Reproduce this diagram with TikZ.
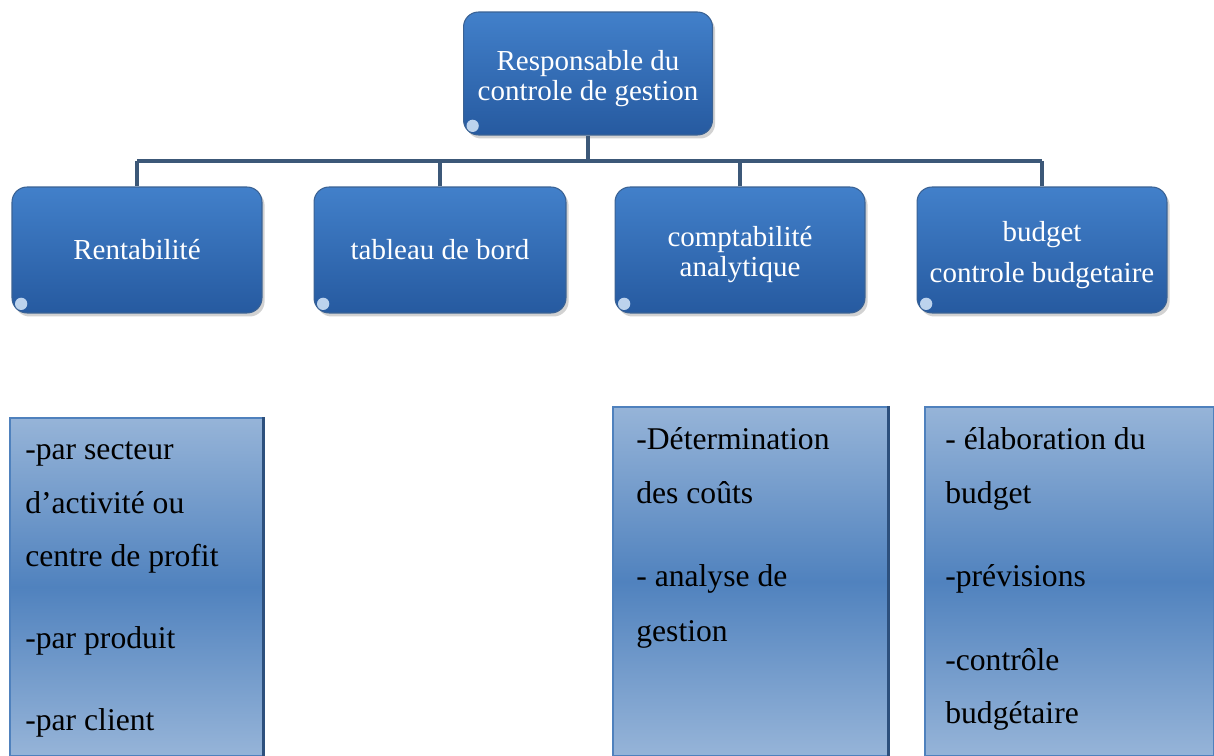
\documentclass[tikz,border=0pt]{standalone}
\usepackage{fontspec}
\setmainfont{Liberation Serif}
\usetikzlibrary{shadows}
\definecolor{boxtop}{RGB}{66,128,202}
\definecolor{boxbot}{RGB}{38,90,160}
\definecolor{boxedge}{RGB}{58,98,148}
\definecolor{conncol}{RGB}{60,88,120}
\definecolor{lightb}{RGB}{150,180,216}
\definecolor{midb}{RGB}{80,130,190}
\definecolor{paneledge}{RGB}{79,129,189}
\definecolor{paneldark}{RGB}{45,80,125}
\definecolor{hlcol}{RGB}{215,232,250}
\newcommand{\tpad}{\rule{0pt}{17pt}}
\tikzset{
 topbox/.style={rectangle, rounded corners=0.3cm, top color=boxtop, bottom color=boxbot,
   draw=boxedge, line width=0.6pt, text=white, align=center, inner sep=0pt,
   minimum width=5cm, minimum height=2.5cm, font=\fontsize{16.5}{17}\selectfont,
   drop shadow={opacity=0.35, shadow xshift=1.5pt, shadow yshift=-2pt}},
 panel/.style={rectangle, top color=lightb, bottom color=lightb, middle color=midb,
   draw=paneledge, line width=0.8pt, inner sep=0pt, minimum height=6.98cm},
 conn/.style={draw=conncol, line width=2.2pt},
 ptext/.style={anchor=base west, inner sep=0pt, font=\fontsize{18}{20}\selectfont, text=black},
 hl/.style={fill=hlcol, opacity=0.85},
 darkedge/.style={draw=paneldark, line width=1.5pt},
}
\begin{document}
\begin{tikzpicture}[x=0.02cm,y=-0.02cm]
\fill[white] (0,0) rectangle (1214,756);
\useasboundingbox (0,0) rectangle (1214,756);

% top boxes
\node[topbox, minimum width=4.98cm, minimum height=2.46cm] (top) at (588,73.5) {\tpad Responsable du\\controle de gestion};
\node[topbox, minimum height=2.52cm] (b1) at (137,250) {Rentabilité};
\node[topbox, minimum width=5.04cm, minimum height=2.52cm] (b2) at (440,250) {tableau de bord};
\node[topbox, minimum height=2.52cm] (b3) at (740,250) {\tpad comptabilité\\analytique};
\node[topbox, minimum height=2.52cm] (b4) at (1042,250) {\tpad budget\\[6pt]controle budgetaire};

% highlights
\foreach \n in {top,b1,b2,b3,b4}
  \fill[hl] ([xshift=5.5pt,yshift=5.5pt]\n.south west) circle (3.5pt);

% connectors
\coordinate (busL) at (137,161);
\coordinate (busR) at (1042,161);
\draw[conn] (top.south) -- (top.south |- busL);
\draw[conn] (busL) -- (busR);
\foreach \n in {b1,b2,b3,b4}
  \draw[conn] (\n.north) -- (\n.north |- busL);

% panels
\node[panel, minimum width=5.06cm, minimum height=6.76cm] (pA) at (136.5,587) {};
\node[panel, minimum width=5.5cm] (pC) at (750.5,581.5) {};
\node[panel, minimum width=5.78cm] (pD) at (1069.5,581.5) {};
\draw[darkedge] (pA.north east) -- (pA.south east);
\draw[darkedge] (pC.north east) -- (pC.south east);

% panel texts
\node[ptext] (a1) at (25,460) {-par secteur};
\node[ptext] (a2) at (25,514) {d’activité ou};
\node[ptext] (a3) at (25,567) {centre de profit};
\node[ptext] (a4) at (25,648) {-par produit};
\node[ptext] (a5) at (25,730) {-par client};

\node[ptext] (c1) at (636,450) {-Détermination};
\node[ptext] (c2) at (636,504) {des coûts};
\node[ptext] (c3) at (636,587) {- analyse de};
\node[ptext] (c4) at (636,642) {gestion};

\node[ptext] (d1) at (945,450) {- élaboration du};
\node[ptext] (d2) at (945,504) {budget};
\node[ptext] (d3) at (945,587) {-prévisions};
\node[ptext] (d4) at (945,670) {-contrôle};
\node[ptext] (d5) at (945,724) {budgétaire};
\end{tikzpicture}
\end{document}
